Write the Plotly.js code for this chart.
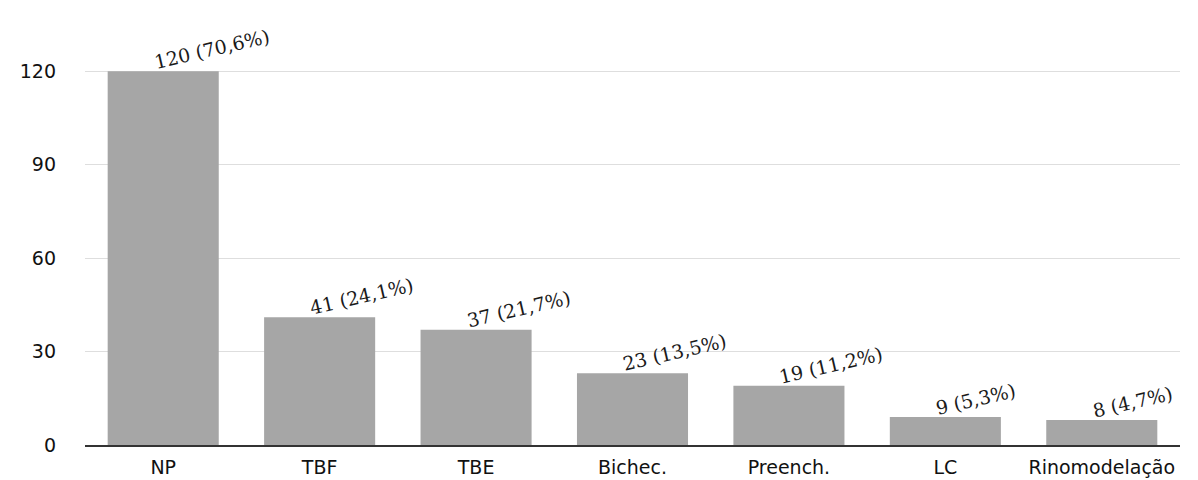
<!DOCTYPE html>
<html>
<head>
<meta charset="utf-8">
<script src="https://cdn.plot.ly/plotly-3.0.1.min.js"></script>
<style>html,body{margin:0;padding:0;background:#fff;}#chart{width:1198px;height:480px;}</style>
</head>
<body>
<div id="chart"></div>
<script>
const categories = ["NP", "TBF", "TBE", "Bichec.", "Preench.", "LC", "Rinomodelação"];
const counts = [120, 41, 37, 23, 19, 9, 8];
const percentLabels = ["70,6%", "24,1%", "21,7%", "13,5%", "11,2%", "5,3%", "4,7%"];
const yTicks = [0, 30, 60, 90, 120];

const trace = {
  type: "bar",
  x: categories,
  y: counts,
  marker: { color: "#a6a6a6" },
  hoverinfo: "x+y"
};

const annotations = categories.map((c, i) => ({
  x: c,
  y: counts[i],
  xref: "x",
  yref: "y",
  text: counts[i] + " (" + percentLabels[i] + ")",
  showarrow: false,
  textangle: -13,
  xanchor: "left",
  yanchor: "bottom",
  xshift: -14,
  yshift: -4,
  font: { family: "DejaVu Serif, Liberation Serif, serif", size: 19, color: "#1a1a1a" }
}));

const layout = {
  width: 1198,
  height: 480,
  margin: { l: 85, r: 18, t: 40, b: 35 },
  paper_bgcolor: "#fff",
  plot_bgcolor: "#fff",
  bargap: 0.29,
  showlegend: false,
  xaxis: {
    type: "category",
    range: [-0.5, 6.5],
    showline: true,
    linecolor: "#333",
    linewidth: 2,
    showgrid: false,
    ticks: "",
    ticklabelstandoff: 4,
    tickfont: { family: "DejaVu Sans, Liberation Sans, Arial, sans-serif", size: 19, color: "#111" }
  },
  yaxis: {
    range: [0, 130],
    tickvals: yTicks,
    ticktext: yTicks.map(String),
    showgrid: true,
    gridcolor: "#dedede",
    gridwidth: 1,
    zeroline: false,
    showline: false,
    ticks: "",
    ticklabelstandoff: 28,
    tickfont: { family: "DejaVu Sans, Liberation Sans, Arial, sans-serif", size: 19, color: "#111" }
  },
  annotations: annotations
};

Plotly.newPlot("chart", [trace], layout, { displayModeBar: false, staticPlot: true });
</script>
</body>
</html>
